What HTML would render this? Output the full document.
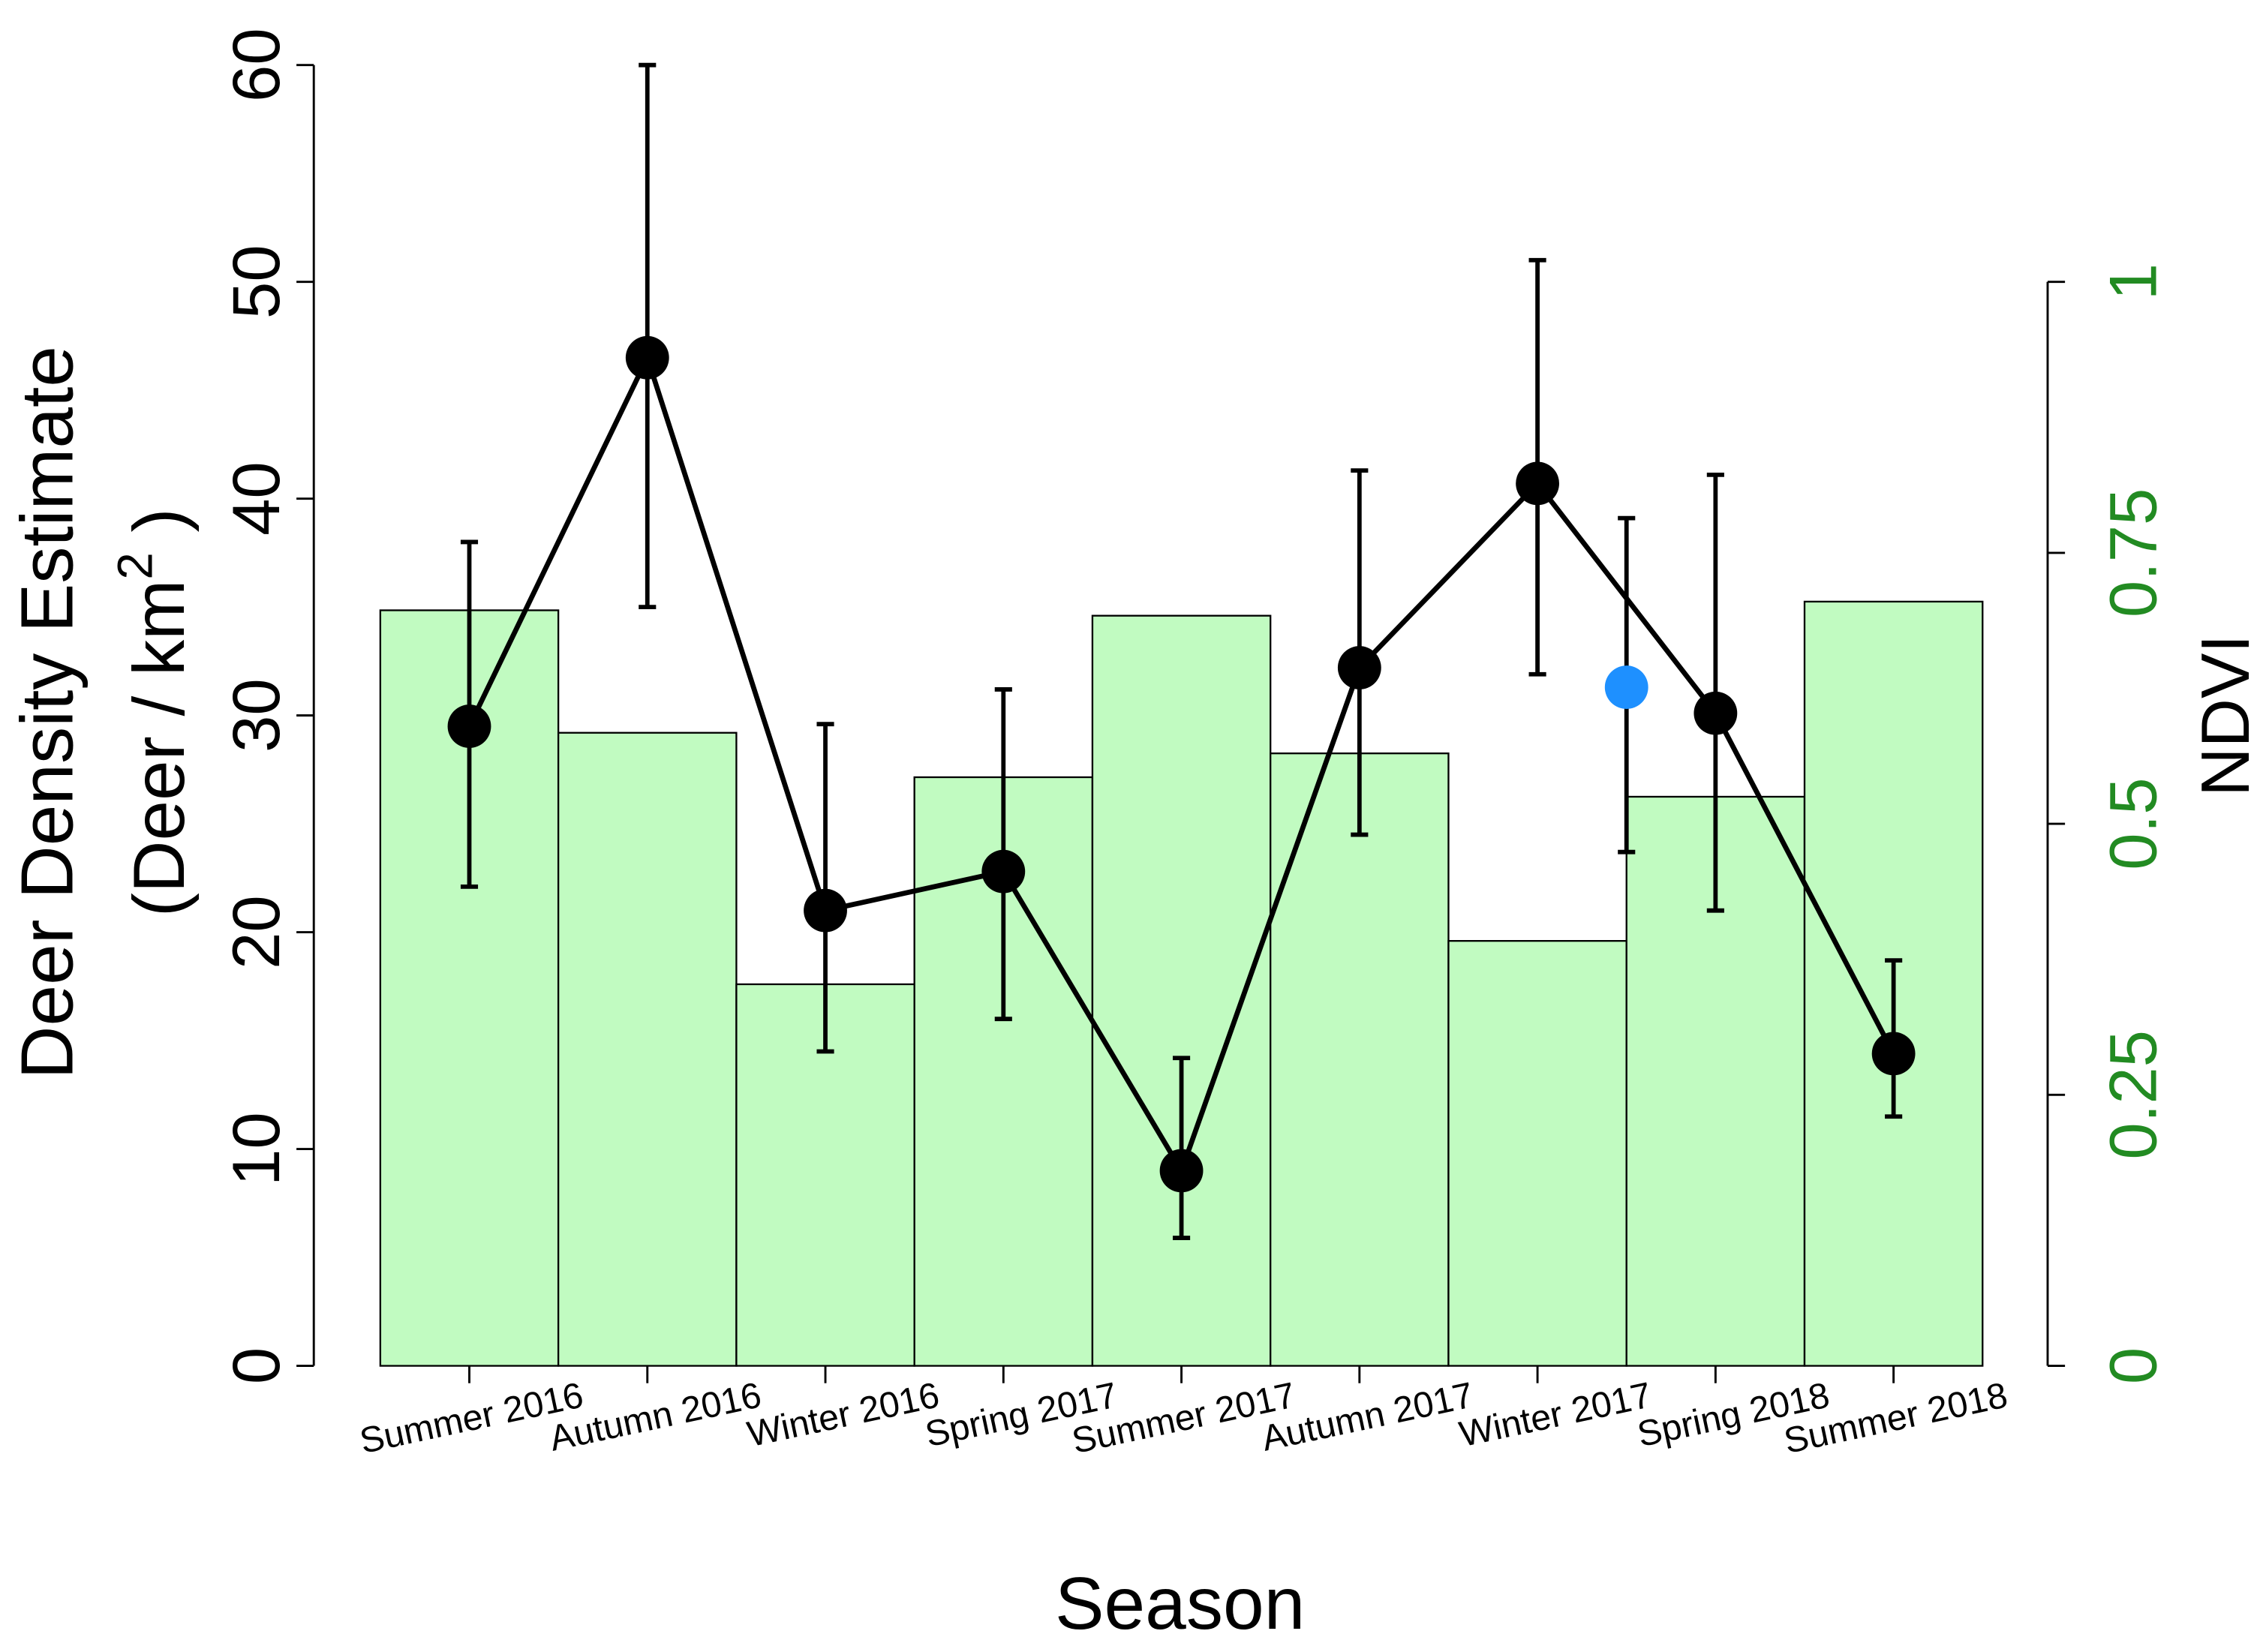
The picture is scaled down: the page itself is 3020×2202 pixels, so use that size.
<!DOCTYPE html>
<html><head><meta charset="utf-8"><style>
html,body{margin:0;padding:0;background:#fff}
svg{display:block}
text{font-family:"Liberation Sans",sans-serif}
</style></head><body>
<svg id="chart" width="3020" height="2202" viewBox="0 0 1567 1143" preserveAspectRatio="none" xmlns="http://www.w3.org/2000/svg">
<g id="bars"></g><g id="errs"></g><g id="line"></g><g id="axes"></g>
</svg>
<script>
const categories=["Summer 2016","Autumn 2016","Winter 2016","Spring 2017","Summer 2017","Autumn 2017","Winter 2017","Spring 2018","Summer 2018"];
const ndvi=[0.697,0.584,0.352,0.543,0.692,0.565,0.392,0.525,0.705];
const density=[29.5,46.5,21,22.8,9,32.2,40.7,30.1,14.4];
const lower=[22.1,35,14.5,16,5.9,24.5,31.9,21,11.5];
const upper=[38,60,29.6,31.2,14.2,41.3,51,41.1,18.7];
const extraPoint=[31.3];
const extraLower=[23.7];
const extraUpper=[39.1];
const leftTicks=[0,10,20,30,40,50,60];
const rightTicks=["0","0.25","0.5","0.75","1"];
const rightTickVals=[0,0.25,0.5,0.75,1];

const NS="http://www.w3.org/2000/svg";
const X0=263,BW=(1371-263)/9;
const xc=i=>X0+BW*(i+0.5);
const yL=v=>945-v*15;
const yR=v=>945-v*750;
function mk(p,tag,a,txt){const e=document.createElementNS(NS,tag);for(const k in a)e.setAttribute(k,a[k]);if(txt!=null)e.textContent=txt;p.appendChild(e);return e;}
const bars=document.getElementById('bars'),errs=document.getElementById('errs'),line=document.getElementById('line'),axes=document.getElementById('axes');
ndvi.forEach((v,i)=>{
 const r=mk(bars,'rect',{x:X0+BW*i,y:yR(v),width:BW,height:945-yR(v),fill:'#c1fbc1',stroke:'#000','stroke-width':1.2});
 
 
});
function err(x,lo,hi,nm){
 const g=mk(errs,'g',{stroke:'#000','stroke-width':3});
 
 
 mk(g,'line',{x1:x,x2:x,y1:yL(lo),y2:yL(hi)});
 mk(g,'line',{x1:x-6,x2:x+6,y1:yL(lo),y2:yL(lo)});
 mk(g,'line',{x1:x-6,x2:x+6,y1:yL(hi),y2:yL(hi)});
}
density.forEach((v,i)=>err(xc(i),lower[i],upper[i],'error-bar-'+i));
const pl=mk(line,'polyline',{points:density.map((v,i)=>xc(i)+','+yL(v)).join(' '),fill:'none',stroke:'#000','stroke-width':3.5});


density.forEach((v,i)=>{
 const c=mk(line,'circle',{cx:xc(i),cy:yL(v),r:15,fill:'#000'});
 
 
});
extraPoint.forEach((v,i)=>{
 const x=X0+BW*7;
 err(x,extraLower[i],extraUpper[i],'extra-error-bar');
 const c=mk(line,'circle',{cx:x,cy:yL(v),r:15,fill:'#1e90ff'});
 
 
});
const la=mk(axes,'g',{});


mk(la,'line',{x1:217,x2:217,y1:yL(0),y2:yL(60),stroke:'#000','stroke-width':1.5});
leftTicks.forEach(v=>{
 mk(la,'line',{x1:205,x2:217,y1:yL(v),y2:yL(v),stroke:'#000','stroke-width':1.5});
 const t=mk(la,'text',{x:0,y:0,transform:`translate(193,${yL(v)}) rotate(-90)`,'text-anchor':'middle','font-size':46},String(v));
 
 
});
const ra=mk(axes,'g',{});


mk(ra,'line',{x1:1416,x2:1416,y1:yR(0),y2:yR(1),stroke:'#000','stroke-width':1.5});
rightTickVals.forEach((v,i)=>{
 mk(ra,'line',{x1:1416,x2:1428,y1:yR(v),y2:yR(v),stroke:'#000','stroke-width':1.5});
 const t=mk(ra,'text',{transform:`translate(1491,${yR(v)}) rotate(-90)`,'text-anchor':'middle','font-size':46,fill:'#228b22'},rightTicks[i]);
 
 
});
categories.forEach((c,i)=>{
 mk(axes,'line',{x1:xc(i),x2:xc(i),y1:945,y2:957,stroke:'#000','stroke-width':1.5});
 const t=mk(axes,'text',{transform:`translate(${xc(i)+80},${973}) rotate(-12)`,'text-anchor':'end','font-size':25},c);
 
 
});
let t;
t=mk(axes,'text',{transform:'translate(50,493) rotate(-90)','text-anchor':'middle','font-size':51},'Deer Density Estimate');


t=mk(axes,'text',{transform:'translate(127,493) rotate(-90)','text-anchor':'middle','font-size':50});


t.innerHTML='(Deer / km<tspan dy="-22" font-size="34">2</tspan><tspan dy="22"> )</tspan>';
t=mk(axes,'text',{transform:'translate(1555,495) rotate(-90)','text-anchor':'middle','font-size':47},'NDVI');


t=mk(axes,'text',{x:816,y:1127,'text-anchor':'middle','font-size':51},'Season');


</script>
</body></html>
